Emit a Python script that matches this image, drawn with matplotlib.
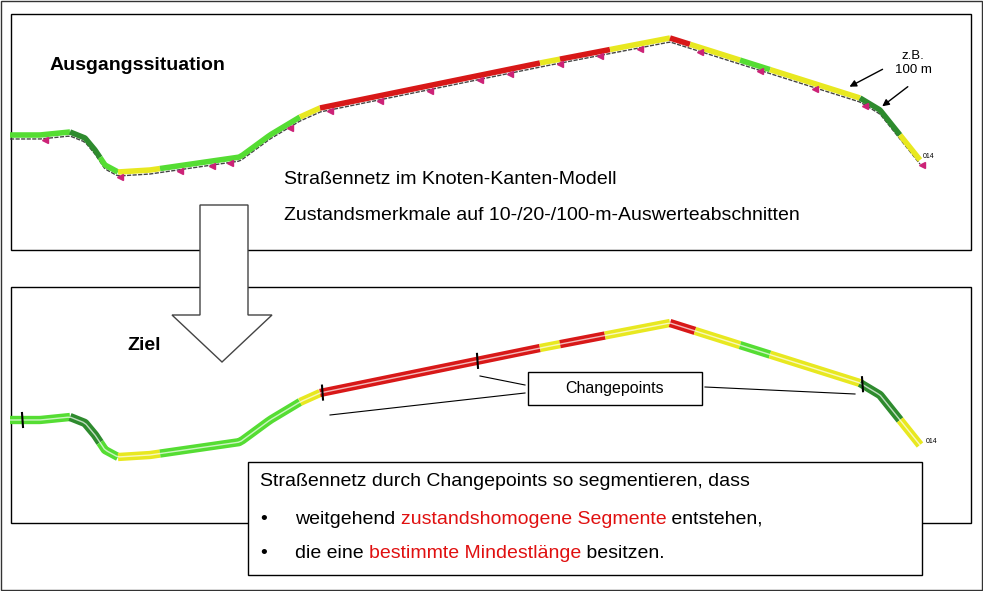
import numpy as np
import matplotlib.pyplot as plt
from matplotlib.patches import Rectangle, Polygon

plt.rcParams['font.family'] = ['Liberation Sans', 'DejaVu Sans']

# road shape (pixel coords of the sketch)
path_x = [10, 40, 70, 85, 95, 105, 118, 150, 240, 270, 300, 320, 540, 670, 860, 880, 920]
path_y = [135, 135, 132, 138, 150, 165, 172, 170, 157, 135, 117, 108, 63, 38, 98, 110, 160]

GREEN, DGREEN, YELLOW, RED = "#55dd33", "#2e8b2e", "#e8e820", "#d81818"
top_breaks = [10, 70, 100, 118, 160, 300, 320, 540, 560, 610, 670, 690, 740, 770, 860, 900, 920]
top_colors = [GREEN, DGREEN, GREEN, YELLOW, GREEN, YELLOW, RED, YELLOW, RED, YELLOW, RED,
              YELLOW, GREEN, YELLOW, DGREEN, YELLOW]
bot_breaks = [10, 70, 100, 118, 160, 300, 320, 540, 560, 605, 670, 695, 740, 770, 860, 900, 920]
bot_colors = top_colors
changepoints = [22, 322, 477, 862]
marker_x = [45, 120, 180, 212, 230, 290, 330, 380, 430, 480, 510, 560, 600, 640, 700, 760, 815, 865, 922]

fig = plt.figure(figsize=(9.83, 5.91), dpi=100)
ax = fig.add_axes([0, 0, 1, 1])
ax.set_xlim(0, 983)
ax.set_ylim(591, 0)
ax.axis("off")

ax.add_patch(Rectangle((1, 1), 981, 589, fill=False, lw=1, ec="#333333"))
ax.add_patch(Rectangle((11, 14), 960, 236, fill=False, lw=1, ec="black"))
ax.add_patch(Rectangle((11, 287), 960, 236, fill=False, lw=1, ec="black"))


def road(x0, x1, dy, n=40):
    xs = np.linspace(x0, x1, n)
    return xs, np.interp(xs, path_x, path_y) + dy


# top road
xs, ys = road(10, 920, 0, 300)
ax.plot(xs, ys + 4, color="#444444", lw=1, ls=(0, (3, 1)), zorder=2)
for i, c in enumerate(top_colors):
    x, y = road(top_breaks[i], top_breaks[i + 1], 0)
    ax.plot(x, y, color=c, lw=4, solid_capstyle="butt", solid_joinstyle="round", zorder=3)
for mx in marker_x:
    my = np.interp(mx, path_x, path_y) + 5
    ax.plot(mx, my, marker="<", color="#cc2277", ms=5, zorder=4)
ax.text(923, 158, "014", fontsize=5, zorder=5)

# bottom road
for i, c in enumerate(bot_colors):
    x, y = road(bot_breaks[i], bot_breaks[i + 1], 285)
    ax.plot(x, y, color=c, lw=6, solid_capstyle="butt", solid_joinstyle="round", zorder=3)
xs, ys = road(10, 920, 285, 300)
ax.plot(xs, ys, color="white", lw=1, alpha=0.7, zorder=4)
for cx in changepoints:
    cy = np.interp(cx, path_x, path_y) + 285
    ax.plot([cx, cx + 1], [cy - 7, cy + 7], color="black", lw=1.5, zorder=5)
ax.text(926, 443, "014", fontsize=5, zorder=5)

# texts
ax.text(50, 65, "Ausgangssituation", fontsize=14, fontweight="bold", va="center")
ax.text(127, 345, "Ziel", fontsize=14, fontweight="bold", va="center")
ax.text(284, 180, "Straßennetz im Knoten-Kanten-Modell", fontsize=14, va="center")
ax.text(284, 215, "Zustandsmerkmale auf 10-/20-/100-m-Auswerteabschnitten", fontsize=14, va="center")
ax.text(913, 63, "z.B.\n100 m", fontsize=9.5, ha="center", va="center")
ax.annotate("", xy=(847, 88), xytext=(885, 68), arrowprops=dict(arrowstyle="-|>", color="black", lw=1))
ax.annotate("", xy=(880, 108), xytext=(910, 85), arrowprops=dict(arrowstyle="-|>", color="black", lw=1))

# big arrow
ax.add_patch(Polygon([(200, 205), (248, 205), (248, 315), (272, 315), (222, 362),
                      (172, 315), (200, 315)], closed=True, fc="white", ec="#444444", lw=1, zorder=6))

# changepoints box and leader lines
ax.add_patch(Rectangle((528, 372), 174, 33, fc="white", ec="black", lw=1, zorder=6))
ax.text(615, 389, "Changepoints", fontsize=11.5, ha="center", va="center", zorder=7)
ax.plot([480, 525], [376, 385], color="black", lw=0.8)
ax.plot([330, 525], [415, 393], color="black", lw=0.8)
ax.plot([705, 855], [387, 394], color="black", lw=0.8)

# bottom text box
ax.add_patch(Rectangle((248, 462), 674, 113, fc="white", ec="black", lw=1, zorder=6))
ax.text(260, 481, "Straßennetz durch Changepoints so segmentieren, dass", fontsize=14, va="center", zorder=7)
ax.text(260, 519, "•", fontsize=14, va="center", zorder=7)
ax.text(260, 553, "•", fontsize=14, va="center", zorder=7)
for y, parts in [(519, [("weitgehend ", "black"), ("zustandshomogene Segmente", "#e01010"), (" entstehen,", "black")]),
                 (553, [("die eine ", "black"), ("bestimmte Mindestlänge", "#e01010"), (" besitzen.", "black")])]:
    t = ax.text(295, y, parts[0][0], fontsize=14, va="center", color=parts[0][1], zorder=7)
    for s, c in parts[1:]:
        t = ax.annotate(s, xycoords=t, xy=(1, 0), va="bottom", fontsize=14, color=c, zorder=7)

fig.savefig("out.png", dpi=100)
